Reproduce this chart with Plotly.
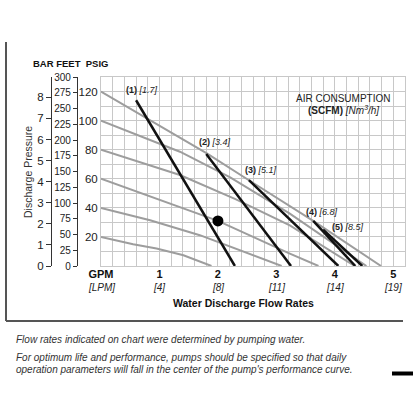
import plotly.graph_objects as go

# water flow (GPM) vs discharge pressure (PSIG) curves for each air inlet pressure
air_psi = [120, 100, 80, 60, 40, 20]
curve_gpm = [
    [0, 0.8, 1.81, 2.53, 3.63, 4.79],
    [0, 1.35, 2.21, 3.23, 4.54],
    [0, 1.35, 2.3, 3.23, 4.34],
    [0, 1.35, 2.0, 3.23, 3.72],
    [0, 0.84, 1.69, 3.09],
    [0, 0.55, 0.95, 1.41, 1.89],
]
curve_psi = [
    [120, 101, 77.5, 59, 31, 0],
    [100, 78.6, 61, 36, 0],
    [80, 62.6, 46, 28, 0],
    [60, 40.7, 31, 8.5, 0],
    [40, 31.5, 21.2, 0],
    [20, 15, 12, 7.4, 0],
]

# air consumption lines: SCFM [Nm3/h]
scfm = ["1", "2", "3", "4", "5"]
nm3h = ["1.7", "3.4", "5.1", "6.8", "8.5"]
air_gpm = [[0.60, 2.29], [1.80, 3.25], [2.53, 4.06], [3.63, 4.35], [3.80, 4.47]]
air_line_psi = [[114, 0], [77, 0], [59, 0], [31, 0], [25, 0]]

# operating point
point_gpm = [2.0]
point_psi = [31]

# axis ticks
gpm_ticks = [0, 1, 2, 3, 4, 5]
gpm_text = ["GPM", "1", "2", "3", "4", "5"]
lpm_text = ["[LPM]", "[4]", "[8]", "[11]", "[14]", "[19]"]
psig_ticks = [20, 40, 60, 80, 100, 120]
bar_ticks = [0, 1, 2, 3, 4, 5, 6, 7, 8]
feet_ticks = [0, 25, 50, 75, 100, 125, 150, 175, 200, 225, 250, 275, 300]

W, H = 416, 408
FONT = "Liberation Sans, Arial, sans-serif"
PSI_MAX = 130


def px(x):
    return x / W


def py(y):
    return 1 - y / H


fig = go.Figure()

for g, p in zip(curve_gpm, curve_psi):
    fig.add_trace(go.Scatter(x=g, y=p, mode="lines",
                             line=dict(color="#9d9d9d", width=2),
                             showlegend=False, hoverinfo="skip"))

for g, p in zip(air_gpm, air_line_psi):
    fig.add_trace(go.Scatter(x=g, y=p, mode="lines",
                             line=dict(color="#111111", width=2.5),
                             showlegend=False, hoverinfo="skip"))

fig.add_trace(go.Scatter(x=point_gpm, y=point_psi, mode="markers",
                         marker=dict(color="#000000", size=11),
                         showlegend=False, hoverinfo="skip"))

# invisible points so the bar / feet axes get drawn
fig.add_trace(go.Scatter(x=[0], y=[0], yaxis="y2", mode="markers",
                         marker=dict(opacity=0), showlegend=False, hoverinfo="skip"))
fig.add_trace(go.Scatter(x=[0], y=[0], yaxis="y3", mode="markers",
                         marker=dict(opacity=0), showlegend=False, hoverinfo="skip"))

grid = "#c8c8c8"
fig.update_layout(
    width=W, height=H,
    margin=dict(l=0, r=0, t=0, b=0, autoexpand=False),
    paper_bgcolor="white", plot_bgcolor="white",
    font=dict(family=FONT, color="#222222", size=10),
    xaxis=dict(
        domain=[px(101), px(405)], range=[0, 5.2],
        tickvals=gpm_ticks,
        ticktext=["<b>%s</b>" % a for a in gpm_text],
        showgrid=True, gridcolor=grid, gridwidth=1,
        minor=dict(dtick=0.2, showgrid=True, gridcolor=grid, gridwidth=1),
        showline=True, mirror=True, linecolor=grid, zeroline=False,
        ticks="", ticklabelstandoff=-2,
        tickfont=dict(size=11, family=FONT, color="#111"),
        automargin=False, fixedrange=True,
    ),
    yaxis=dict(
        domain=[py(266), py(77)], range=[0, PSI_MAX],
        tickvals=psig_ticks, ticktext=[str(v) for v in psig_ticks],
        showgrid=True, gridcolor=grid, gridwidth=1,
        minor=dict(dtick=10, showgrid=True, gridcolor=grid, gridwidth=1),
        showline=True, mirror=True, linecolor=grid, zeroline=False,
        ticks="", tickfont=dict(size=11.5, family=FONT, color="#222"),
        automargin=False, fixedrange=True,
    ),
    yaxis2=dict(
        overlaying="y", anchor="free", position=px(51), side="left",
        range=[0, PSI_MAX / 14.5], tickvals=bar_ticks,
        showgrid=False, zeroline=False, showline=True,
        linecolor="#333", linewidth=1.2,
        ticks="outside", ticklen=5, tickcolor="#333",
        tickfont=dict(size=11.5, family=FONT, color="#222"),
        automargin=False, fixedrange=True,
    ),
    yaxis3=dict(
        overlaying="y", anchor="free", position=px(77), side="left",
        range=[0, 300], tickvals=feet_ticks,
        showgrid=False, zeroline=False, showline=True,
        linecolor="#333", linewidth=1.2,
        ticks="outside", ticklen=4, tickcolor="#333",
        tickfont=dict(size=10, family=FONT, color="#222"),
        automargin=False, fixedrange=True,
    ),
)

# second row of flow labels, litres per minute
for v, t in zip(gpm_ticks, lpm_text):
    fig.add_annotation(x=v, y=py(287), xref="x", yref="paper", showarrow=False,
                       text="<i>%s</i>" % t, xanchor="center", yanchor="middle",
                       font=dict(size=10, family=FONT, color="#222"))

# air consumption labels on the black lines
label_pos = [(0.40, 121), (1.64, 85.5), (2.43, 66), (3.47, 37.2), (3.92, 26.9)]
for (lx, ly), s, n in zip(label_pos, scfm, nm3h):
    fig.add_annotation(x=lx, y=ly, xref="x", yref="y", showarrow=False,
                       xanchor="left", yanchor="middle",
                       text="<b>(%s)</b> <i>[%s]</i>" % (s, n),
                       font=dict(size=9, family=FONT, color="#222"))

fig.add_annotation(x=4.14, y=115.4, xref="x", yref="y", showarrow=False,
                   text="AIR CONSUMPTION", xanchor="center",
                   font=dict(size=10, family=FONT, color="#222"))
fig.add_annotation(x=4.14, y=107, xref="x", yref="y", showarrow=False,
                   text="<b>(SCFM)</b> <i>[Nm<sup>3</sup>/h]</i>", xanchor="center",
                   font=dict(size=10, family=FONT, color="#222"))

# axis headers and titles
fig.add_annotation(x=px(31), y=py(63), xref="paper", yref="paper",
                   showarrow=False, text="<b>BAR FEET  PSIG</b>",
                   xanchor="left", yanchor="middle",
                   font=dict(size=9.5, family=FONT, color="#111"))

fig.add_annotation(x=px(28), y=py(172), xref="paper", yref="paper",
                   showarrow=False, text="Discharge Pressure", textangle=-90,
                   xanchor="center", yanchor="middle",
                   font=dict(size=10.5, family=FONT, color="#333"))

fig.add_annotation(x=px(243), y=py(303), xref="paper", yref="paper",
                   showarrow=False, text="<b>Water Discharge Flow Rates</b>",
                   xanchor="center", yanchor="middle",
                   font=dict(size=10.5, family=FONT, color="#111"))

# notes under the chart
notes = [
    ("Flow rates indicated on chart were determined by pumping water.", 339.5),
    ("For optimum life and performance, pumps should be specified so that daily", 357.7),
    ("operation parameters will fall in the center of the pump's performance curve.", 369.3),
]
for t, y in notes:
    fig.add_annotation(x=px(14), y=py(y), xref="paper", yref="paper",
                       showarrow=False, text="<i>%s</i>" % t,
                       xanchor="left", yanchor="middle",
                       font=dict(size=10, family=FONT, color="#333"))

# frame around the chart and the small black bar
fig.add_shape(type="line", xref="paper", yref="paper",
              x0=px(6), x1=px(6), y0=py(42), y1=py(321),
              line=dict(color="#555", width=2))
fig.add_shape(type="line", xref="paper", yref="paper",
              x0=px(6), x1=px(403), y0=py(321), y1=py(321),
              line=dict(color="#555", width=2))
fig.add_shape(type="rect", xref="paper", yref="paper",
              x0=px(392), x1=px(413), y0=py(375.5), y1=py(371.5),
              fillcolor="#000", line=dict(width=0))

fig.write_html("out.html", config=dict(displayModeBar=False),
               post_script="document.body.style.margin='0';")
